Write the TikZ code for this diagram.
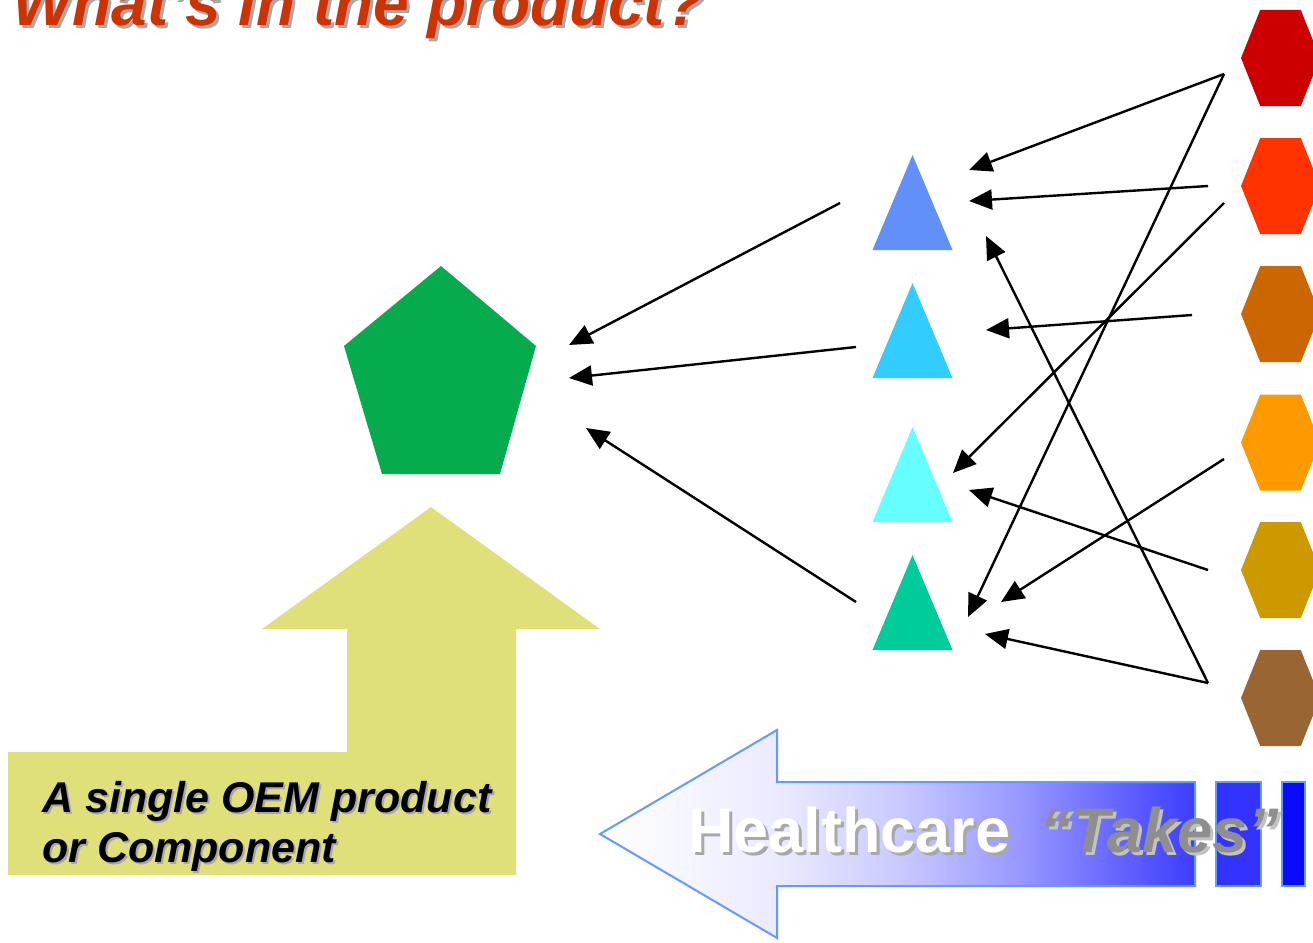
\documentclass[tikz,border=0pt]{standalone}
\usepackage{fontspec}
\setmainfont{Liberation Sans}
\usetikzlibrary{arrows.meta}
\definecolor{titlered}{HTML}{CC3300}
\definecolor{hexA}{HTML}{CC0000}
\definecolor{hexB}{HTML}{FF3300}
\definecolor{hexC}{HTML}{CC6600}
\definecolor{hexD}{HTML}{FF9900}
\definecolor{hexE}{HTML}{CC9900}
\definecolor{hexF}{HTML}{996633}
\definecolor{triA}{HTML}{6190F8}
\definecolor{triB}{HTML}{33CCFF}
\definecolor{triC}{HTML}{66FFFF}
\definecolor{triD}{HTML}{00CC99}
\definecolor{pentgreen}{HTML}{06AB4D}
\definecolor{oemyellow}{HTML}{E0E07B}
\definecolor{arrowline}{HTML}{6699FF}
\definecolor{barblue}{HTML}{3333FF}
\definecolor{bardeep}{HTML}{0A0AFF}
\definecolor{shadowgray}{HTML}{A8A8A8}
\definecolor{takesgray}{HTML}{8E8E8E}
\definecolor{takesshadow}{HTML}{C2C2C2}
\pgfdeclarehorizontalshading{healthshade}{100bp}{rgb(0bp)=(1,1,1); rgb(25bp)=(1,1,1); rgb(40bp)=(0.92,0.92,1); rgb(50bp)=(0.79,0.79,1); rgb(60bp)=(0.6,0.6,1); rgb(75bp)=(0.24,0.24,1); rgb(100bp)=(0.24,0.24,1)}
\tikzset{
  conn/.style={line width=2.4pt, draw=black, -{Triangle[length=23pt,width=20pt]}},
  bigtext/.style={font=\fontsize{43}{50}\selectfont\bfseries\itshape, anchor=base west, inner sep=0pt},
  titletext/.style={font=\fontsize{64}{70}\selectfont\bfseries\itshape, anchor=base west, inner sep=0pt},
  taketext/.style={font=\fontsize{63}{70}\selectfont\bfseries, anchor=base west, inner sep=0pt},
}
\newcommand{\hexat}[3]{% x y color
  \fill[#3] (#1-39.5,#2) -- (#1-20.3,#2-48) -- (#1+20.3,#2-48) -- (#1+39.5,#2) -- (#1+20.3,#2+48) -- (#1-20.3,#2+48) -- cycle;}
\newcommand{\triat}[3]{% apex x, apex y, color
  \fill[#3] (#1,#2) -- (#1+40,#2+95) -- (#1-40,#2+95) -- cycle;}
\begin{document}
\begin{tikzpicture}[x=1pt,y=-1pt]
\useasboundingbox (0,0) rectangle (1313,942);
\clip (0,0) rectangle (1313,942);

% title
\node[titletext, text=shadowgray] (titleshadow) at (15,29) {What's in the product?};
\node[titletext, text=titlered] (title) at (12,26) {What's in the product?};

% hexagons
\hexat{1280.5}{58}{hexA}
\hexat{1280.5}{186}{hexB}
\hexat{1280.5}{314}{hexC}
\hexat{1280.5}{442.5}{hexD}
\hexat{1280.5}{570}{hexE}
\hexat{1280.5}{698}{hexF}

% triangles
\triat{912.5}{155}{triA}
\triat{912.5}{283}{triB}
\triat{912.5}{427}{triC}
\triat{912.5}{555}{triD}

% pentagon
\fill[pentgreen] (441,266) -- (536,346) -- (500,474) -- (382,474) -- (344,346) -- cycle;

% yellow arrow
\fill[oemyellow] (431,507) -- (600,629) -- (516,629) -- (516,875) -- (8,875) -- (8,752)
  -- (347,752) -- (347,629) -- (262,629) -- cycle;
\node[bigtext, text=shadowgray] (oemshadow) at (44,814) {A single OEM product};
\node[bigtext] (oem) at (42,812) {A single OEM product};
\node[bigtext, text=shadowgray] (compshadow) at (44,864) {or Component};
\node[bigtext] (comp) at (42,862) {or Component};

% blue arrow
\shade[shading=healthshade]
  (600,834) -- (777,730) -- (777,782) -- (1195,782) -- (1195,886) -- (777,886) -- (777,938) -- cycle;
\draw[arrowline, line width=2pt, line join=miter]
  (600,834) -- (777,730) -- (777,782) -- (1195,782) -- (1195,886) -- (777,886) -- (777,938) -- cycle;
\draw[arrowline, line width=2pt, fill=barblue] (1216,782) rectangle (1261,886);
\draw[arrowline, line width=2pt, fill=bardeep] (1282,782) rectangle (1305,886);
\node[taketext, text=shadowgray] (hcshadow) at (691,855) {Healthcare};
\node[taketext, text=white] (hc) at (688,852) {Healthcare};
\node[taketext, font=\fontsize{63}{70}\selectfont\bfseries\itshape, text=takesshadow] (tkshadow) at (1043,855) {“Takes”};
\node[taketext, font=\fontsize{63}{70}\selectfont\bfseries\itshape, text=takesgray] (tk) at (1040,852) {“Takes”};

% connector end points
\coordinate (p1) at (569,345);
\coordinate (p2) at (569,378);
\coordinate (p3) at (586,428);
\coordinate (t1s) at (840,203);
\coordinate (t2s) at (856,347);
\coordinate (t4s) at (856,602);

\coordinate (h1s) at (1224,74);
\coordinate (h2s) at (1208,186);
\coordinate (h2t) at (1224,203);
\coordinate (h3s) at (1192,315);
\coordinate (h4s) at (1224,459);
\coordinate (h5s) at (1208,570);
\coordinate (h6s) at (1208,683);

\coordinate (t1a) at (969,170);
\coordinate (t1b) at (969,201);
\coordinate (t1c) at (986,236);
\coordinate (t2a) at (986,330);
\coordinate (t3a) at (953,473);
\coordinate (t3b) at (969,490);
\coordinate (t4a) at (968,617);
\coordinate (t4b) at (1001,602);
\coordinate (t4c) at (985,634);

% connectors
\draw[conn] (t1s) -- (p1);
\draw[conn] (t2s) -- (p2);
\draw[conn] (t4s) -- (p3);

\draw[conn] (h1s) -- (t1a);
\draw[conn] (h2s) -- (t1b);
\draw[conn] (h6s) -- (t1c);
\draw[conn] (h3s) -- (t2a);
\draw[conn] (h2t) -- (t3a);
\draw[conn] (h5s) -- (t3b);
\draw[conn] (h1s) -- (t4a);
\draw[conn] (h4s) -- (t4b);
\draw[conn] (h6s) -- (t4c);
\end{tikzpicture}
\end{document}
